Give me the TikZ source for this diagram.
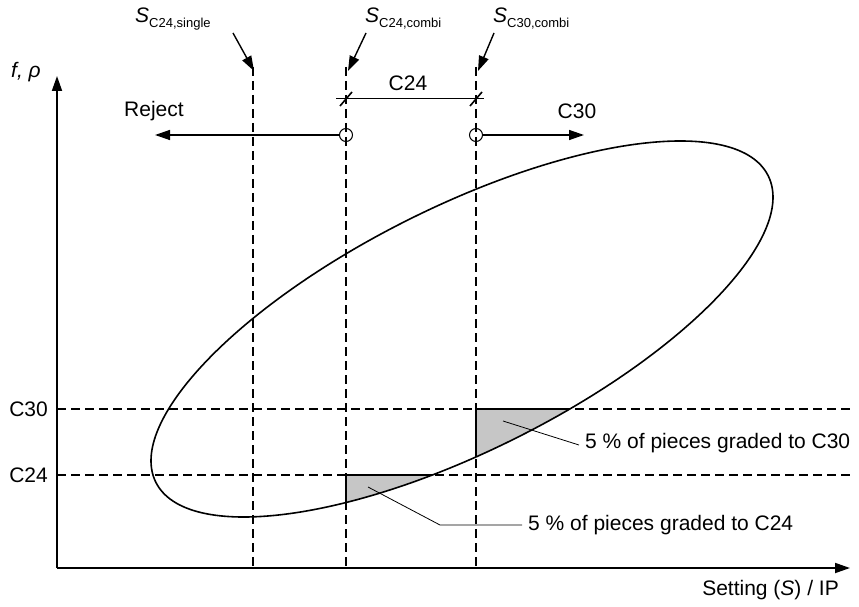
\documentclass[tikz,border=0pt]{standalone}
\usepackage{fontspec}
\setmainfont{Liberation Sans}
\usetikzlibrary{arrows.meta}
\definecolor{shadegray}{RGB}{198,198,198}
\newcommand{\SSub}[1]{{\itshape S}\raisebox{-5pt}{\fontsize{13}{15}\selectfont #1}}
\begin{document}
\begin{tikzpicture}[x=1pt,y=1pt,
  font=\fontsize{21}{25}\selectfont,
  axis/.style={line width=1.8pt,-{Triangle[length=15pt,width=10pt]}},
  guide/.style={line width=1.1pt,dash pattern=on 9pt off 5pt},
  arr/.style={line width=1.4pt,-{Triangle[length=15pt,width=10pt]}},
  leader/.style={line width=0.8pt},
  edge/.style={line width=1.6pt},
  lbl/.style={inner sep=0pt},
  ring/.style={circle,draw,line width=1pt,minimum size=13pt,inner sep=0pt}]
\useasboundingbox (0,0) rectangle (859,606);
% shaded regions
\begin{scope}
  \clip (346,0) rectangle (700,131);
  \fill[shadegray,rotate around={26.6:(462,277)}] (462,277) ellipse [x radius=342.4, y radius=121.7];
\end{scope}
\begin{scope}
  \clip (476,0) rectangle (800,197);
  \fill[shadegray,rotate around={26.6:(462,277)}] (462,277) ellipse [x radius=342.4, y radius=121.7];
\end{scope}
% coordinates
\coordinate (O) at (57,38);
\coordinate (Ytip) at (57,530);
\coordinate (Xtip) at (850,38);
\coordinate (v1t) at (253,539); \coordinate (v1b) at (253,38);
\coordinate (v2t) at (346,539); \coordinate (v2b) at (346,38);
\coordinate (v3t) at (476,539); \coordinate (v3b) at (476,38);
\coordinate (h30a) at (57,197); \coordinate (h30b) at (852,197);
\coordinate (h24a) at (57,131); \coordinate (h24b) at (852,131);
% dashed guides
\draw[guide] (v1t) -- (v1b);
\draw[guide] (v2t) -- (v2b);
\draw[guide] (v3t) -- (v3b);
\draw[guide] (h30a) -- (h30b);
\draw[guide] (h24a) -- (h24b);
% edges of shaded regions
\begin{scope}
  \clip[rotate around={26.6:(462,277)}] (462,277) ellipse [x radius=342.4, y radius=121.7];
  \draw[edge] (346,0) -- (346,131) -- (700,131);
  \draw[edge] (476,0) -- (476,197) -- (800,197);
\end{scope}
% ellipse
\draw[line width=1.6pt,rotate around={26.6:(462,277)}] (462,277) ellipse [x radius=342.4, y radius=121.7];
% axes
\draw[axis] (O) -- (Ytip);
\draw[axis] (O) -- (Xtip);
\node[lbl] (ylab) at (26,534) {\itshape f, ρ};
\node[lbl,anchor=east] (xlab) at (839,16) {Setting (\textit{S}) / IP};
\node[lbl,anchor=east] (c30) at (48,197) {C30};
\node[lbl,anchor=east] (c24) at (48,131) {C24};
% circles and arrows
\node[ring] (r1) at (346,471) {};
\node[ring] (r2) at (476,471) {};
\coordinate (rejend) at (155,471);
\coordinate (c30end) at (584,471);
\draw[arr] (r1.west) -- (rejend);
\draw[arr] (r2.east) -- (c30end);
\node[lbl] (rej) at (154,495) {Reject};
\node[lbl] (c30t) at (577,495) {C30};
% C24 bracket
\coordinate (ba) at (336,507); \coordinate (bb) at (484,507);
\draw[line width=1pt] (ba) -- (bb);
\coordinate (t1a) at (340,500); \coordinate (t1b) at (352,514);
\coordinate (t2a) at (470,500); \coordinate (t2b) at (482,514);
\draw[line width=1.6pt] (t1a) -- (t1b);
\draw[line width=1.6pt] (t2a) -- (t2b);
\node[lbl] (c24t) at (408,523) {C24};
% S labels and arrows
\node[lbl,anchor=base west] (s1) at (135,583) {\SSub{C24,single}};
\node[lbl,anchor=base west] (s2) at (365,583) {\SSub{C24,combi}};
\node[lbl,anchor=base west] (s3) at (493,583) {\SSub{C30,combi}};
\coordinate (a1s) at (233,573); \coordinate (a1e) at (254,535);
\coordinate (a2s) at (366,573); \coordinate (a2e) at (348,535);
\coordinate (a3s) at (494,573); \coordinate (a3e) at (478,535);
\draw[arr] (a1s) -- (a1e);
\draw[arr] (a2s) -- (a2e);
\draw[arr] (a3s) -- (a3e);
% leaders
\node[lbl,anchor=west] (p24) at (528,81) {5 \% of pieces graded to C24};
\node[lbl,anchor=west] (p30) at (585,163) {5 \% of pieces graded to C30};
\coordinate (l1a) at (368,119); \coordinate (l1b) at (440,81);
\coordinate (l2a) at (503,185);
\draw[leader] (l1a) -- (l1b) -- ([xshift=-6pt]p24.west);
\draw[leader] (l2a) -- ([xshift=-6pt,yshift=-2pt]p30.west);
\end{tikzpicture}
\end{document}
